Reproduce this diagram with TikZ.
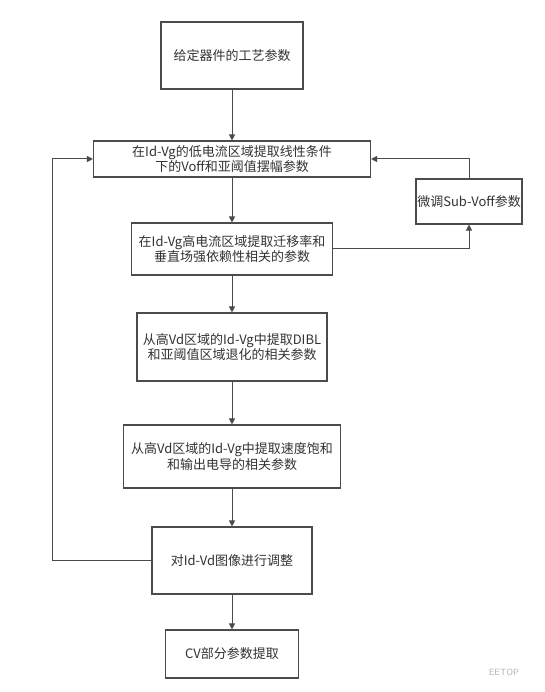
\documentclass[tikz,border=0pt]{standalone}
\usepackage{fontspec}
\newfontfamily\cjk{Noto Sans CJK SC}
\usetikzlibrary{arrows.meta}
\definecolor{mygray}{RGB}{75,75,75}
\definecolor{mytext}{RGB}{50,50,50}

\begin{document}
\begin{tikzpicture}[x=1pt, y=-1pt,
    box/.style={draw=mygray, line width=1.1pt, align=center, text=mytext,
        font=\cjk\fontsize{13}{14}\selectfont, inner sep=0pt},
    flow/.style={draw=mygray, line width=1pt, -{Triangle[width=6pt, length=6pt]}}]
    % Page frame (keeps the margins of the picture)
    \useasboundingbox (0, 0) rectangle (544, 692);

    % Main column of steps
    \node[box, minimum width=142pt, minimum height=67pt] (param) at (232, 55.5) {给定器件的工艺参数};
    \node[box, minimum width=277pt, minimum height=36pt] (lowvg) at (232, 159) {在Id-Vg的低电流区域提取线性条件\\下的Voff和亚阈值摆幅参数};
    \node[box, minimum width=201pt, minimum height=52pt] (highvg) at (232, 249) {在Id-Vg高电流区域提取迁移率和\\垂直场强依赖性相关的参数};
    \node[box, minimum width=190pt, minimum height=68pt] (dibl) at (232, 347) {从高Vd区域的Id-Vg中提取DIBL\\和亚阈值区域退化的相关参数};
    \node[box, minimum width=217pt, minimum height=63pt] (vsat) at (232, 456.5) {从高Vd区域的Id-Vg中提取速度饱和\\和输出电导的相关参数};
    \node[box, minimum width=160pt, minimum height=67pt] (adjust) at (232, 560.5) {对Id-Vd图像进行调整};
    \node[box, minimum width=133pt, minimum height=48pt] (cv) at (232, 654) {CV部分参数提取};

    % Side step on the right
    \node[box, minimum width=106pt, minimum height=45pt] (subvoff) at (469, 201.5) {微调Sub-Voff参数};

    % Downward arrows
    \draw[flow] (param) -- (lowvg);
    \draw[flow] (lowvg) -- (highvg);
    \draw[flow] (highvg) -- (dibl);
    \draw[flow] (dibl) -- (vsat);
    \draw[flow] (vsat) -- (adjust);
    \draw[flow] (adjust) -- (cv);

    % Right loop through Sub-Voff
    \draw[flow] (highvg.east) -| (subvoff.south);
    \draw[flow] (subvoff.north) |- (lowvg.east);

    % Left feedback loop
    \draw[flow] (adjust.west) -- ++(-99, 0) |- (lowvg.west);

    % Watermark
    \node[text=black!30, font=\sffamily\small] (mark) at (504, 672) {EETOP};
\end{tikzpicture}
\end{document}
